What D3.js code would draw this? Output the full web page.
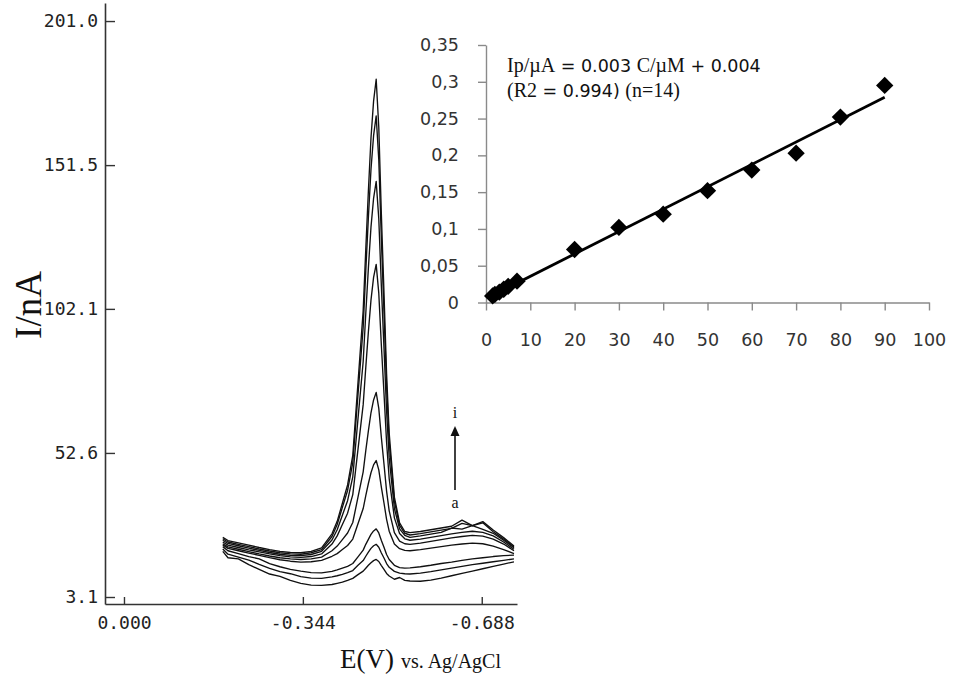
<!DOCTYPE html>
<html><head><meta charset="utf-8">
<script src="https://cdn.jsdelivr.net/npm/d3@7"></script>
<style>body{margin:0;background:#fff}svg{display:block}</style>
</head><body><svg id="c" width="956" height="681"></svg>
<script>
// ---- main voltammograms: potential (V) and currents (nA), curves a..i ----
const potentials = [-0.19,-0.20,-0.22,-0.24,-0.26,-0.28,-0.30,-0.32,-0.34,-0.36,-0.38,-0.40,-0.41,-0.42,-0.43,-0.44,-0.45,-0.46,-0.465,-0.47,-0.475,-0.48,-0.485,-0.49,-0.495,-0.50,-0.505,-0.51,-0.52,-0.53,-0.54,-0.55,-0.57,-0.59,-0.61,-0.63,-0.65,-0.67,-0.69,-0.71,-0.73,-0.75];
const curveA = [18.8,16.6,16.2,14.2,12.6,11.0,10.2,8.8,7.8,7.2,7.1, 7.4,7.8,8.2,8.8,9.5,10.8,12.0,13.0,14.0,14.9,15.6,16.0,15.3,13.9,12.6,11.2,10.3,9.2,9.8,8.8, 8.6,8.5,8.9,9.6,10.4,11.2,12.0,12.8,13.6,14.4,15.2];
const curveB = [19.6,17.8,16.8,15.8,14.3,12.9,11.8,11.1,10.1,9.6,9.5, 10.0,10.4,10.9,11.5,12.2,14.0,15.6,17.1,18.5,19.8,20.7,21.2,20.2,18.2,16.5,14.6,13.3,11.9,11.3,11.1, 11.0,11.3,11.8,12.4,13.0,13.6,14.2,14.7,15.2,15.7,16.2];
const curveC = [20.4,19.0,18.0,17.0,16.2,14.6,13.5,12.6,12.0,11.5,11.4, 11.9,12.4,13.0,13.6,14.6,16.9,19.2,21.2,22.9,24.6,25.8,26.5,25.1,22.5,20.2,17.7,16.0,14.0,13.2,13.0, 13.1,13.5,14.0,14.6,15.1,15.7,16.2,16.6,17.0,17.3,17.5];
const curveD = [21.0,19.8,19.0,18.2,17.4,16.6,15.9,15.4,15.1,15.2,15.7, 17.1,18.0,19.4,20.8,23.0,28.3,33.5,37.9,42.1,45.8,48.5,50.0,46.8,40.8,35.4,29.8,25.7,21.3,19.7,19.1, 19.0,19.4,19.9,20.4,20.9,21.3,21.6,21.4,20.6,19.4,18.0];
const curveE = [21.4,20.3,19.5,18.7,17.9,17.2,16.6,16.2,16.0,16.2,16.8, 19.0,20.6,22.8,25.1,28.7,37.4,46.1,53.4,60.2,66.4,70.8,73.4,67.9,57.8,48.8,39.5,32.7,25.2,22.3,21.4, 21.2,21.6,22.2,22.8,23.4,23.9,24.3,24.0,23.0,21.3,19.0];
const curveF = [22.0,20.9,20.1,19.3,18.6,17.9,17.3,16.9,16.7,17.0,17.9, 21.3,24.1,28.0,31.9,38.3,53.8,69.2,82.0,94.2,105.1,112.9,117.4,107.5,89.4,73.1,56.3,43.8,30.3,24.9,23.1, 22.6,23.0,23.6,24.2,24.8,25.3,25.7,25.3,24.1,22.0,19.5];
const curveG = [22.6,21.5,20.7,19.9,19.1,18.4,17.8,17.4,17.3,17.7,18.8, 22.7,26.2,31.2,36.2,44.4,64.3,84.0,100.5,116.1,130.2,140.1,145.9,133.1,109.7,88.7,67.0,50.9,33.5,26.5,24.3, 23.6,24.1,24.7,25.3,26.8,26.4,27.6,26.3,25.0,22.6,20.0];
const curveH = [23.1,22.0,21.2,20.4,19.6,18.9,18.3,17.9,17.8,18.3,19.4, 23.9,28.0,33.9,39.7,49.3,72.6,95.8,115.2,133.5,150.0,161.6,168.4,153.3,125.8,101.1,75.5,56.5,36.0,27.7,25.0, 24.4,24.9,25.5,26.1,26.7,28.4,27.6,28.6,25.5,23.0,20.3];
const curveI = [23.6,22.5,21.7,20.9,20.1,19.4,18.8,18.4,18.3,18.8,20.0, 24.8,29.1,35.3,41.6,51.8,76.7,101.5,122.6,142.6,160.8,173.5,181.0,164.5,134.4,107.6,79.8,59.4,37.4,28.6,25.6, 25.2,25.6,26.2,26.8,27.4,29.5,27.6,29.0,26.1,23.5,20.6];
const currentSeries = [curveA, curveB, curveC, curveD, curveE, curveF, curveG, curveH, curveI];
const mainYTicks = [3.1, 52.6, 102.1, 151.5, 201.0];
const mainXTicks = [0, -0.344, -0.688];

// ---- inset calibration ----
const concentrations = [1.5, 2, 3, 4, 5, 7, 20, 30, 40, 50, 60, 70, 80, 90];
const peakCurrents = [0.009, 0.011, 0.014, 0.018, 0.022, 0.029, 0.072, 0.102, 0.120, 0.152, 0.180, 0.203, 0.252, 0.295];
const insetXTicks = [0, 10, 20, 30, 40, 50, 60, 70, 80, 90, 100];
const insetYTicks = [0, 0.05, 0.1, 0.15, 0.2, 0.25, 0.3, 0.35];
const insetYLabels = ["0", "0,05", "0,1", "0,15", "0,2", "0,25", "0,3", "0,35"];

const svg = d3.select('#c');
svg.append('rect').attr('width', 956).attr('height', 681).attr('fill', '#fff');

// main scales
const x = d3.scaleLinear().domain([0.0365, -0.7558]).range([105, 517]);
const y = d3.scaleLinear().domain([0.695, 207.2]).range([604, 3]);

const monoFont = '"DejaVu Sans Mono", monospace';
const serif = '"Liberation Serif", "DejaVu Serif", serif';

// curves
const line = d3.line().x((d, i) => x(potentials[i])).y(d => y(d));
svg.append('g').selectAll('path').data(currentSeries).join('path')
  .attr('d', d => line(d)).attr('fill', 'none').attr('stroke', '#111')
  .attr('stroke-width', 1.35).attr('stroke-linejoin', 'round');

// y axis
const yAx = svg.append('g').attr('transform', 'translate(105,0)')
  .call(d3.axisLeft(y).tickValues(mainYTicks).tickFormat(d => d.toFixed(1))
    .tickSizeInner(-10).tickSizeOuter(0).tickPadding(7));
// x axis
const xAx = svg.append('g').attr('transform', 'translate(0,604)')
  .call(d3.axisBottom(x).tickValues(mainXTicks).tickFormat(d => d.toFixed(3))
    .tickSizeInner(-7).tickSizeOuter(0).tickPadding(12));
[yAx, xAx].forEach(g => {
  g.select('.domain').attr('stroke', '#333').attr('stroke-width', 1.6);
  g.selectAll('.tick line').attr('stroke', '#333').attr('stroke-width', 1.4);
  g.selectAll('.tick text').attr('fill', '#222').style('font-family', monoFont).style('font-size', '18px');
});

// axis titles
svg.append('text').attr('transform', 'translate(41,305) rotate(-90)')
  .attr('text-anchor', 'middle').style('font-family', serif).style('font-size', '37px')
  .attr('fill', '#111').text('I/nA');
const xt = svg.append('text').attr('x', 340).attr('y', 668).attr('fill', '#111').style('font-family', serif);
xt.append('tspan').style('font-size', '27px').text('E(V)');
xt.append('tspan').attr('dx', 7).style('font-size', '20px').text('vs. Ag/AgCl');

// arrow annotation
svg.append('line').attr('x1', 455).attr('x2', 455).attr('y1', 490).attr('y2', 434)
  .attr('stroke', '#111').attr('stroke-width', 1.6);
svg.append('path').attr('d', 'M455,426 L450.5,436 L459.5,436 Z').attr('fill', '#111');
svg.append('text').attr('x', 455).attr('y', 418).attr('text-anchor', 'middle')
  .style('font-family', serif).style('font-size', '16px').attr('fill', '#111').text('i');
svg.append('text').attr('x', 455).attr('y', 508).attr('text-anchor', 'middle')
  .style('font-family', serif).style('font-size', '16px').attr('fill', '#111').text('a');

// ---- inset ----
const xi = d3.scaleLinear().domain([0, 100]).range([486, 929]);
const yi = d3.scaleLinear().domain([0, 0.35]).range([302.5, 45]);
const sansFont = '"DejaVu Sans", Verdana, sans-serif';

const xiAx = svg.append('g').attr('transform', 'translate(0,302.5)')
  .call(d3.axisBottom(xi).tickValues(insetXTicks).tickSizeInner(8).tickSizeOuter(0).tickPadding(23));
const yiAx = svg.append('g').attr('transform', 'translate(486,0)')
  .call(d3.axisLeft(yi).tickValues(insetYTicks).tickFormat((d, i) => insetYLabels[i])
    .tickSizeInner(8).tickSizeOuter(0).tickPadding(19));
[xiAx, yiAx].forEach(g => {
  g.select('.domain').attr('stroke', '#8a8a8a').attr('stroke-width', 1.4);
  g.selectAll('.tick line').attr('stroke', '#8a8a8a').attr('stroke-width', 1.4);
  g.selectAll('.tick text').attr('fill', '#333').style('font-family', sansFont).style('font-size', '17.5px');
});

// least squares line from the points
const mx = d3.mean(concentrations), my = d3.mean(peakCurrents);
let sxy = 0, sxx = 0;
concentrations.forEach((c, i) => { sxy += (c - mx) * (peakCurrents[i] - my); sxx += (c - mx) * (c - mx); });
const slope = sxy / sxx, icpt = my - slope * mx;
const ext = d3.extent(concentrations);
svg.append('line')
  .attr('x1', xi(ext[0])).attr('y1', yi(icpt + slope * ext[0]))
  .attr('x2', xi(ext[1])).attr('y2', yi(icpt + slope * ext[1]))
  .attr('stroke', '#000').attr('stroke-width', 2.8);

// diamonds
svg.append('g').selectAll('path').data(concentrations).join('path')
  .attr('d', d3.symbol(d3.symbolSquare, 150)())
  .attr('transform', (d, i) => `translate(${xi(d)},${yi(peakCurrents[i])}) rotate(45)`)
  .attr('fill', '#000');

// equation
const eq1 = svg.append('text').attr('x', 507).attr('y', 72).attr('fill', '#111').style('font-size', '17.5px');
eq1.append('tspan').style('font-family', serif).style('font-size', '20px').text('Ip/\u00b5A');
eq1.append('tspan').style('font-family', sansFont).text(' = 0.003 ');
eq1.append('tspan').style('font-family', serif).style('font-size', '20px').text('C/\u00b5M');
eq1.append('tspan').style('font-family', sansFont).text(' + 0.004');
const eq2 = svg.append('text').attr('x', 507).attr('y', 97).attr('fill', '#111').style('font-size', '17.5px');
eq2.append('tspan').style('font-family', serif).style('font-size', '20px').text('(R2');
eq2.append('tspan').style('font-family', sansFont).text(' = 0.994) ');
eq2.append('tspan').style('font-family', serif).style('font-size', '20px').text('(n=14)');
</script></body></html>
